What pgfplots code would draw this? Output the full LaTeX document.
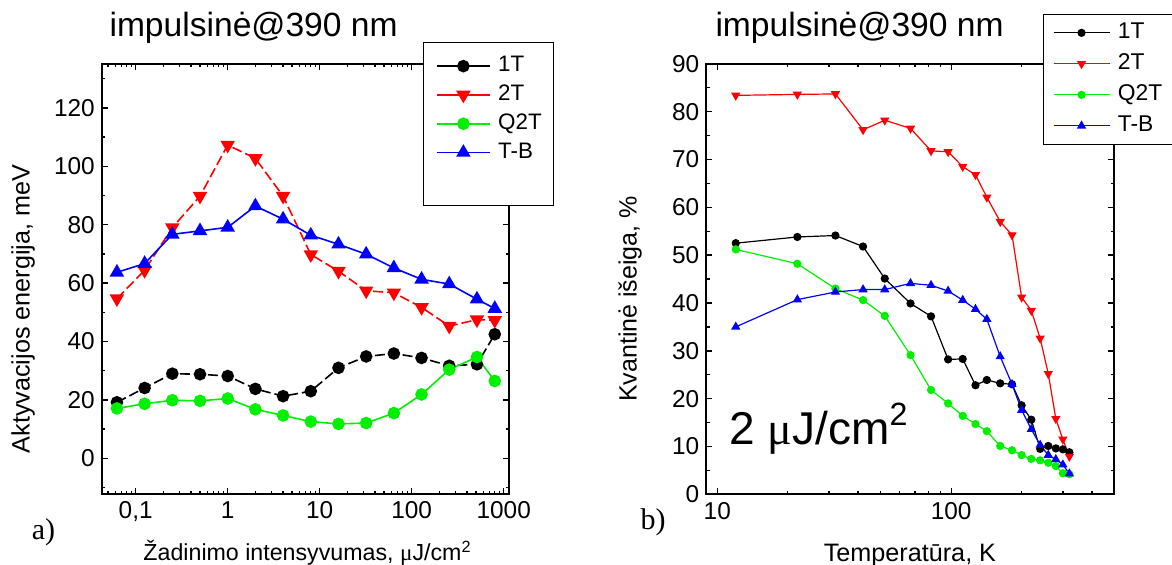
\documentclass[border=0pt]{standalone}
\usepackage{pgfplots}
\pgfplotsset{compat=1.18}
\usepackage{fontspec}
\setmainfont{Liberation Sans}
\newfontfamily\serif{Liberation Serif}
\definecolor{ored}{RGB}{255,0,0}
\definecolor{ogreen}{RGB}{0,240,0}
\definecolor{oblue}{RGB}{0,0,255}

\pgfplotsset{
  every axis/.append style={
    scale only axis,
    axis line style={line width=0.9pt},
    tick align=inside,
    major tick length=3pt, minor tick length=1.7pt,
    every tick/.append style={line width=0.7pt, black},
    tick label style={font=\fontsize{12.2}{14}\selectfont},
    legend cell align=left,
    title style={font=\fontsize{16.8}{20}\selectfont, anchor=center},
    xlabel style={anchor=base},
    ylabel style={anchor=center},
  },
}

\begin{document}
\begin{tikzpicture}
\useasboundingbox (0,0) rectangle (586pt,282pt);

% ---------------- left panel ----------------
\begin{axis}[xmode=log,
  /pgf/number format/assume math mode=true,
  at={(50.9pt,34.85pt)}, anchor=south west,
  width=203.6pt, height=215.25pt,
  xmin=0.0428, xmax=1142, ymin=-12.3, ymax=135.1,
  xtick={0.1,1,10,100,1000}, xticklabels={{0,1},1,10,100,1000},
  minor xtick={0.05,0.06,0.07,0.08,0.09,0.2,0.3,0.4,0.5,0.6,0.7,0.8,0.9,2,3,4,5,6,7,8,9,20,30,40,50,60,70,80,90,200,300,400,500,600,700,800,900},
  ytick={0,20,...,120}, minor ytick={-10,10,...,130},
  title={impulsinė@390 nm},
  title style={at={(axis description cs:0.3728,1.0553)}, anchor=center},
  xlabel={Žadinimo intensyvumas, {\serif μ}J/cm\textsuperscript{2}},
  xlabel style={at={(axis description cs:0.5052,-0.1545)}, font=\fontsize{11.6}{14}\selectfont},
  ylabel={Aktyvacijos energija, meV},
  ylabel style={at={(axis description cs:-0.1935,0.4304)}, font=\fontsize{12.6}{15}\selectfont},
  legend style={at={(0.7895,1.0517)}, anchor=north west, draw=black, line width=0.6pt, fill=white,
    inner xsep=6.2pt, inner ysep=6.75pt, row sep=3.9pt, column sep=3.85pt,
    font=\fontsize{11.2}{13}\selectfont,
    nodes={inner sep=0pt, text height=8pt, text depth=2.5pt, text width=21.6pt, align=left}},
  legend image code/.code={\draw[solid,mark repeat=2,mark phase=2] plot coordinates {(0pt,0pt) (13.15pt,0pt) (26.3pt,0pt)};},
  extra description/.code={
    \node[font=\serif\fontsize{15}{18}\selectfont, anchor=base] at (-0.1432,-0.1045) {a)};
  },
]
\addplot[black, line width=0.8pt, dash pattern=on 5pt off 2pt, mark=*, mark size=2.75pt, mark options={solid}] coordinates {
(0.0625,19.2) (0.125,24.1) (0.25,29.0) (0.5,28.8) (1,28.2) (2,23.8) (4,21.3) (8,23.0) (16,31.0) (32,34.9) (64,35.9) (128,34.4) (256,31.7) (512,32.2) (800,42.5)};
\addlegendentry{1T}
\addplot[ored, line width=0.8pt, dash pattern=on 5pt off 2pt, mark=triangle*, mark size=3.4pt, mark options={solid, rotate=180}] coordinates {
(0.0625,54.7) (0.125,64.4) (0.25,79.0) (0.5,89.8) (1,107.3) (2,102.7) (4,89.8) (8,69.8) (16,64.1) (32,57.4) (64,56.7) (128,51.7) (256,45.3) (512,47.5) (800,47.3)};
\addlegendentry{2T}
\addplot[ogreen, line width=0.8pt, mark=*, mark size=2.75pt] coordinates {
(0.0625,17.1) (0.125,18.7) (0.25,19.9) (0.5,19.7) (1,20.5) (2,16.8) (4,14.7) (8,12.6) (16,11.8) (32,12.1) (64,15.5) (128,21.9) (256,30.4) (512,34.7) (800,26.5)};
\addlegendentry{Q2T}
\addplot[oblue, line width=0.8pt, mark=triangle*, mark size=3.4pt] coordinates {
(0.0625,63.7) (0.125,66.7) (0.25,76.7) (0.5,77.9) (1,79.1) (2,86.4) (4,81.9) (8,76.4) (16,73.3) (32,69.9) (64,65.2) (128,61.3) (256,59.7) (512,54.5) (800,51.3)};
\addlegendentry{T-B}
\addlegendimage{empty legend}
\addlegendentry{}
\end{axis}

% ---------------- right panel ----------------
\begin{axis}[xmode=log,
  /pgf/number format/assume math mode=true,
  at={(353.1pt,34.85pt)}, anchor=south west,
  width=203.95pt, height=215.25pt,
  xmin=8.97, xmax=497, ymin=0, ymax=90,
  xtick={10,100}, xticklabels={10,100},
  minor xtick={9,20,30,40,50,60,70,80,90,200,300,400},
  xticklabel style={yshift=-0.6pt},
  ytick={0,10,...,90}, minor ytick={5,15,...,85},
  title={impulsinė@390 nm},
  title style={at={(axis description cs:0.376,1.0553)}, anchor=center},
  xlabel={Temperatūra, K},
  xlabel style={at={(axis description cs:0.4994,-0.155)}, font=\fontsize{12.6}{15}\selectfont},
  ylabel={Kvantinė išeiga, \%},
  ylabel style={at={(axis description cs:-0.1868,0.4537)}, font=\fontsize{12.5}{15}\selectfont},
  legend style={at={(0.825,1.1163)}, anchor=north west, draw=black, line width=0.6pt, fill=white,
    inner xsep=4.8pt, inner ysep=4pt, row sep=5pt, column sep=3.85pt,
    font=\fontsize{11.4}{13}\selectfont,
    nodes={inner sep=0pt, text height=8pt, text depth=2.5pt, text width=30pt, align=left}},
  legend image code/.code={\draw[solid,mark repeat=2,mark phase=2] plot coordinates {(0pt,0pt) (14pt,0pt) (28pt,0pt)};},
  extra description/.code={
    \node[font=\serif\fontsize{15}{18}\selectfont, anchor=base] at (-0.1304,-0.0813) {b)};
    \node[font=\fontsize{23}{27}\selectfont, anchor=base west, inner sep=0pt] at (0.0559,0.1168) {2 {\serif μ}J/cm\textsuperscript{2}};
  },
]
\addplot[black, line width=0.6pt, mark=*, mark size=1.75pt] coordinates {
(12,52.5) (22,53.8) (32,54.1) (42,51.8) (52,45.1) (67,39.9) (82,37.2) (97,28.2) (112,28.3) (127,22.8) (142,23.9) (162,23.2) (182,23.0) (200,18.6) (220,15.6) (240,9.5) (260,10.1) (280,9.6) (300,9.4) (320,8.8)};
\addlegendentry{1T}
\addplot[ored, line width=0.6pt, mark=triangle*, mark size=2.1pt, mark options={rotate=180}] coordinates {
(12,83.4) (22,83.6) (32,83.7) (42,76.2) (52,78.2) (67,76.5) (82,71.8) (97,71.6) (112,68.5) (127,66.8) (142,62.1) (162,57.0) (182,54.2) (200,41.2) (220,38.4) (240,32.6) (260,25.2) (280,15.8) (300,11.5) (320,7.9)};
\addlegendentry{2T}
\addplot[ogreen, line width=0.6pt, mark=*, mark size=1.75pt] coordinates {
(12,51.2) (22,48.2) (32,43.0) (42,40.6) (52,37.3) (67,29.1) (82,21.8) (97,19.0) (112,16.4) (127,14.7) (142,13.2) (162,10.1) (182,9.2) (200,8.2) (220,7.4) (240,7.1) (260,6.6) (280,5.9) (300,4.4) (320,4.2)};
\addlegendentry{Q2T}
\addplot[oblue, line width=0.6pt, mark=triangle*, mark size=2.1pt] coordinates {
(12,35.0) (22,40.7) (32,42.3) (42,42.8) (52,42.8) (67,44.1) (82,43.7) (97,42.5) (112,40.6) (127,38.7) (142,36.6) (162,28.8) (182,23.0) (200,17.6) (220,13.6) (240,10.3) (260,8.2) (280,7.3) (300,6.2) (320,4.3)};
\addlegendentry{T-B}
\end{axis}
\end{tikzpicture}
\end{document}
